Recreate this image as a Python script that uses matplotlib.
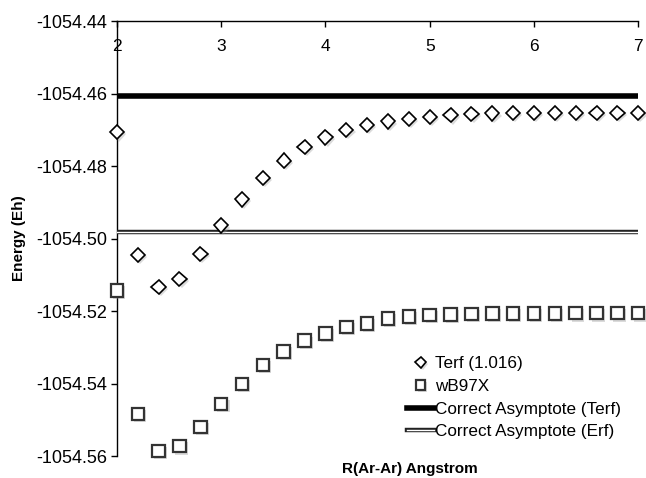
import matplotlib
matplotlib.use("Agg")
import matplotlib.pyplot as plt
import matplotlib.patheffects as pe
import numpy as np

plt.rcParams['font.family'] = ['Liberation Sans', 'DejaVu Sans']

r = [2.0, 2.2, 2.4, 2.6, 2.8, 3.0, 3.2, 3.4, 3.6, 3.8, 4.0, 4.2, 4.4, 4.6, 4.8,
     5.0, 5.2, 5.4, 5.6, 5.8, 6.0, 6.2, 6.4, 6.6, 6.8, 7.0]
terf = [-1054.4707, -1054.5046, -1054.5134, -1054.5111, -1054.5043, -1054.4964,
        -1054.4892, -1054.4833, -1054.4785, -1054.4747, -1054.4721, -1054.4700,
        -1054.4687, -1054.4677, -1054.4670, -1054.4664, -1054.4660, -1054.4657,
        -1054.4655, -1054.4654, -1054.4653, -1054.4653, -1054.4653, -1054.4653,
        -1054.4653, -1054.4653]
wb97x = [-1054.5143, -1054.5484, -1054.5586, -1054.5573, -1054.5520, -1054.5456,
         -1054.5401, -1054.5349, -1054.5312, -1054.5282, -1054.5262, -1054.5244,
         -1054.5234, -1054.5220, -1054.5215, -1054.5211, -1054.5209, -1054.5208,
         -1054.5207, -1054.5207, -1054.5207, -1054.5207, -1054.5206, -1054.5206,
         -1054.5206, -1054.5206]
asym_terf = -1054.4608
asym_erf = -1054.4982

x_ticks = [2, 3, 4, 5, 6, 7]
y_ticks = [-1054.56, -1054.54, -1054.52, -1054.50, -1054.48, -1054.46, -1054.44]

fig = plt.figure(figsize=(6.46, 4.78), dpi=100)
ax = fig.add_axes([0.181, 0.046, 0.807, 0.910])

shadow = [pe.SimplePatchShadow(offset=(1.5, -1.5), shadow_rgbFace='0.6', alpha=0.35), pe.Normal()]

ax.plot(r, terf, linestyle='none', marker='D', markersize=7.3, markerfacecolor='white',
        markeredgecolor='black', markeredgewidth=1.2, label='Terf (1.016)', zorder=4,
        path_effects=shadow, clip_on=False)
ax.plot(r, wb97x, linestyle='none', marker='s', markersize=9, markerfacecolor='white',
        markeredgecolor='#333333', markeredgewidth=1.6, label='wB97X', zorder=4,
        path_effects=shadow, clip_on=False)
ax.axhline(asym_terf, color='black', linewidth=4, label='Correct Asymptote (Terf)', zorder=3)
ax.axhline(asym_erf, color='white', linewidth=1.0, label='Correct Asymptote (Erf)', zorder=3,
           path_effects=[pe.Stroke(linewidth=3.2, foreground='#222222'), pe.Normal()])

ax.set_xlim(2, 7)
ax.set_ylim(-1054.56, -1054.44)
ax.set_xticks(x_ticks)
ax.set_xticklabels([str(v) for v in x_ticks])
ax.set_yticks(y_ticks)
ax.set_yticklabels([f"{v:.2f}" for v in y_ticks])

ax.xaxis.tick_top()
ax.tick_params(axis='x', direction='in', length=4, width=1, pad=-24, labelsize=12.5, colors='black')
ax.tick_params(axis='y', direction='out', length=4, width=1, pad=3, labelsize=13)
ax.spines['right'].set_visible(False)
ax.spines['bottom'].set_visible(False)
for s in ('top', 'left'):
    ax.spines[s].set_linewidth(1.0)
ax.patch.set_visible(False)

ax.set_ylabel('Energy (Eh)', fontsize=11, fontweight='bold', labelpad=7)
ax.text(0.562, -0.03, 'R(Ar-Ar) Angstrom', transform=ax.transAxes, ha='center', va='center',
        fontsize=11, fontweight='bold')

leg = ax.legend(loc='lower left', bbox_to_anchor=(0.527, 0.003), frameon=False, fontsize=12.3,
                handlelength=1.6, handletextpad=0.05, labelspacing=0.45, markerscale=0.75,
                borderaxespad=0.5)

fig.savefig('out.png', dpi=100)
